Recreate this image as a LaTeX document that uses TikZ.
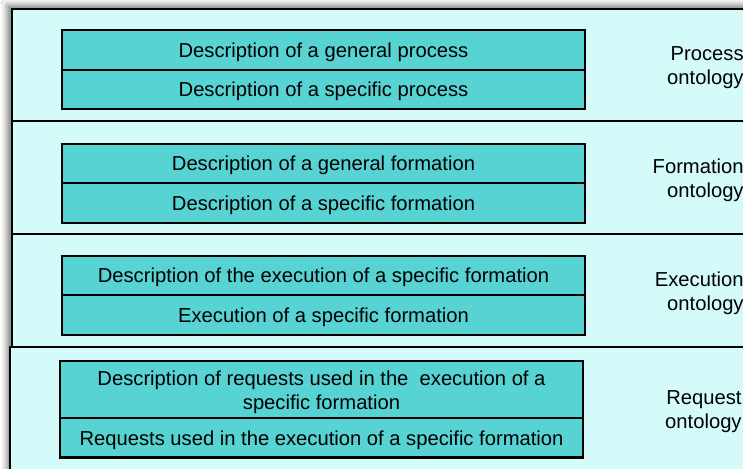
\documentclass[tikz,border=0pt]{standalone}
\usepackage{fontspec}
\setmainfont{Liberation Sans}
\usepackage{tikz}
\usetikzlibrary{positioning,shadows.blur}

\definecolor{panelcyan}{RGB}{213,250,250}
\definecolor{itemcyan}{RGB}{88,211,211}

\begin{document}
\begin{tikzpicture}[
  x=0.5pt, y=-0.5pt,
  font=\fontsize{10.1}{12}\selectfont,
  panel/.style={
    draw,
    line width=1.2pt,
    fill=panelcyan,
    anchor=north west,
    inner sep=0pt,
    outer sep=0pt,
    minimum width=380pt
  },
  item/.style={
    draw,
    line width=1.2pt,
    fill=itemcyan,
    align=center,
    inner sep=0pt,
    outer sep=0pt,
    text height=7.3pt,
    text depth=0pt,
    minimum width=261.5pt,
    minimum height=19.75pt
  },
  onto/.style={align=right, anchor=east, inner sep=0pt, yshift=-1.2pt}
]
  \useasboundingbox (0,0) rectangle (743,468);
  \fill[white] (0,0) rectangle (743,468);

  % soft shadow behind the stacked layers
  \path[fill=white, blur shadow={shadow xshift=-2.5pt, shadow yshift=2pt,
    shadow blur radius=3pt, shadow opacity=50}] (12,9) rectangle (780,480);

  % ontology layers
  \node[panel, minimum height=56pt] (procLayer) at (12,9) {};
  \node[panel, minimum height=56.5pt] (formLayer) at (12,121) {};
  \node[panel, minimum height=56.5pt] (execLayer) at (12,234) {};
  \node[panel, minimum height=65pt] (reqLayer) at (10,347) {};

  % process
  \node[item] (genProc) at (323.5,50) {Description of a general process};
  \node[item, below=0pt of genProc] (specProc) {Description of a specific process};

  % formation
  \node[item] (genForm) at (323.5,163.5) {Description of a general formation};
  \node[item, below=0pt of genForm] (specForm) {Description of a specific formation};

  % execution
  \node[item] (descExec) at (323.5,275.5) {Description of the execution of a specific formation};
  \node[item, below=0pt of descExec] (exec) {Execution of a specific formation};

  % requests (two-line box)
  \node[item, minimum height=28.5pt, text height=19.5pt] (descReq) at (321.5,389.5)
    {Description of requests used in the~ execution of a\\specific formation};
  \node[item, below=0pt of descReq] (req) {Requests used in the execution of a specific formation};

  % layer names
  \node[onto] (procName) at (744,65) {Process\\ontology};
  \node[onto] (formName) at (744,178) {Formation\\ontology};
  \node[onto] (execName) at (744,290.5) {Execution\\ontology};
  \node[onto] (reqName) at (742,409) {Request\\ontology};
\end{tikzpicture}
\end{document}
